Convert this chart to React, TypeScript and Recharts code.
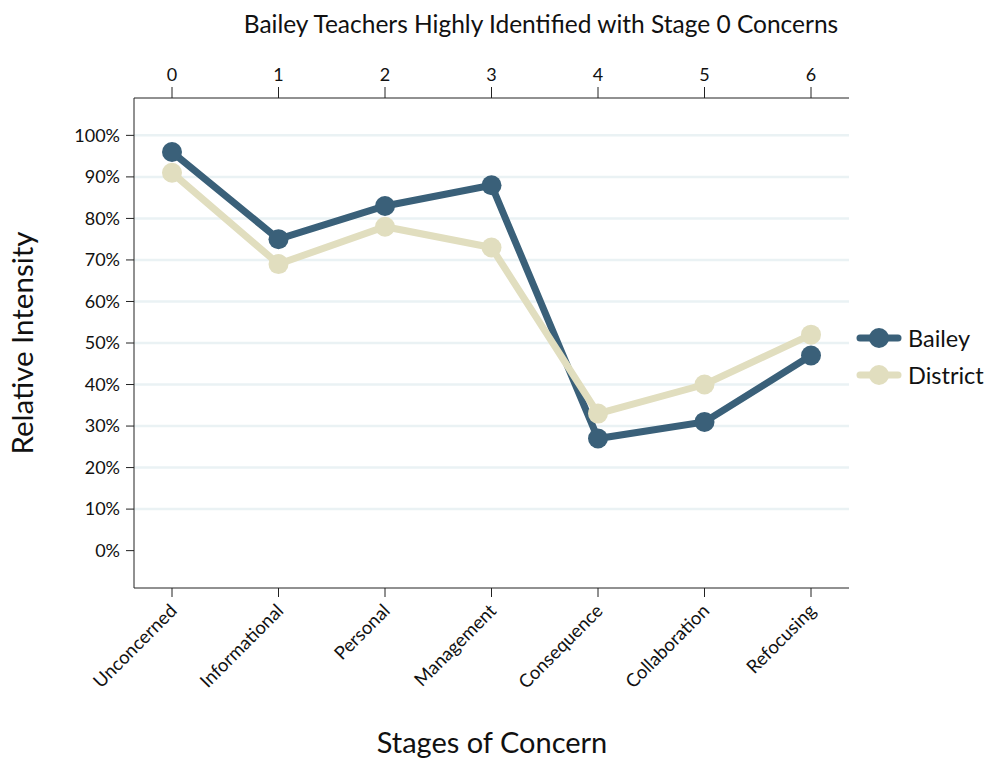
import React from "react"
import { LineChart, Line, XAxis, YAxis, ReferenceLine } from "recharts"

const stages = ["Unconcerned", "Informational", "Personal", "Management", "Consequence", "Collaboration", "Refocusing"]
const stageNums = [0, 1, 2, 3, 4, 5, 6]
const bailey = [0.96, 0.75, 0.83, 0.88, 0.27, 0.31, 0.47]
const district = [0.91, 0.69, 0.78, 0.73, 0.33, 0.40, 0.52]
const yTicks = [0, 0.1, 0.2, 0.3, 0.4, 0.5, 0.6, 0.7, 0.8, 0.9, 1.0]
const gridValues = [0.1, 0.2, 0.3, 0.4, 0.5, 0.6, 0.7, 0.8, 0.9, 1.0]

const BAILEY = "#3A6079"
const DISTRICT = "#E1DEBF"
const GRID = "#EAF2F4"
const FONT = "Lato, 'Open Sans', sans-serif"

const data = stages.map((s, i) => ({ stage: s, num: stageNums[i], bailey: bailey[i], district: district[i] }))

function SlantTick(props: any): React.ReactNode {
  const { x, y, payload } = props
  return (
    <text x={x + 6} y={y + 13} transform={`rotate(-45, ${x + 6}, ${y + 13})`} textAnchor="end" fontSize={18.5} fill="#111" fontFamily={FONT}>
      {payload.value}
    </text>
  )
}

function LegendItem({ color, label, top }: { color: string; label: string; top: number }): React.ReactNode {
  return (
    <div style={{ position: "absolute", left: 856, top, height: 24, display: "flex", alignItems: "center" }}>
      <svg width={46} height={24}>
        <line x1={4} y1={12} x2={42} y2={12} stroke={color} strokeWidth={7} strokeLinecap="round" />
        <circle cx={23} cy={12} r={10} fill={color} />
      </svg>
      <span style={{ fontSize: 23.5, marginLeft: 6, color: "#111" }}>{label}</span>
    </div>
  )
}

export default function App(): React.ReactNode {
  return (
    <div style={{ position: "absolute", left: 0, top: 0, width: 988, height: 759, fontFamily: FONT, background: "#fff" }}>
      <LineChart width={988} height={759} data={data} margin={{ top: 68, right: 139, bottom: 61, left: 64 }}>
        {gridValues.map((v) => (
          <ReferenceLine key={v} y={v} stroke={GRID} strokeWidth={2.5} ifOverflow="visible" />
        ))}
        <XAxis
          xAxisId="top"
          orientation="top"
          dataKey="num"
          height={30}
          padding={{ left: 38, right: 38 }}
          tickSize={11}
          tickMargin={6}
          stroke="#222"
          tick={{ fontSize: 18, fill: "#111", fontFamily: FONT }}
        />
        <XAxis
          dataKey="stage"
          height={110}
          padding={{ left: 38, right: 38 }}
          tickSize={9}
          stroke="#222"
          interval={0}
          tick={<SlantTick />}
        />
        <YAxis
          domain={[-0.09, 1.09]}
          ticks={yTicks}
          width={70}
          tickSize={8}
          tickMargin={6}
          stroke="#222"
          allowDataOverflow
          tickFormatter={(v: number) => `${Math.round(v * 100)}%`}
          tick={{ fontSize: 18, fill: "#111", fontFamily: FONT }}
        />
        <Line dataKey="bailey" stroke={BAILEY} strokeWidth={7} dot={{ r: 10, fill: BAILEY, stroke: "none" }} activeDot={false} isAnimationActive={false} />
        <Line dataKey="district" stroke={DISTRICT} strokeWidth={7} dot={{ r: 10, fill: DISTRICT, stroke: "none" }} activeDot={false} isAnimationActive={false} />
      </LineChart>
      <div style={{ position: "absolute", left: 0, width: 1082, top: 10, lineHeight: "28px", textAlign: "center", fontSize: 24.5, color: "#111" }}>
        Bailey Teachers Highly Identified with Stage 0 Concerns
      </div>
      <div style={{ position: "absolute", left: 492 - 200, width: 400, top: 726, lineHeight: "32px", textAlign: "center", fontSize: 29, color: "#111" }}>
        Stages of Concern
      </div>
      <div style={{ position: "absolute", left: 22 - 200, top: 343 - 16, width: 400, height: 32, lineHeight: "32px", textAlign: "center", fontSize: 29.5, color: "#111", transform: "rotate(-90deg)" }}>
        Relative Intensity
      </div>
      <LegendItem color={BAILEY} label="Bailey" top={326} />
      <LegendItem color={DISTRICT} label="District" top={363} />
    </div>
  )
}
